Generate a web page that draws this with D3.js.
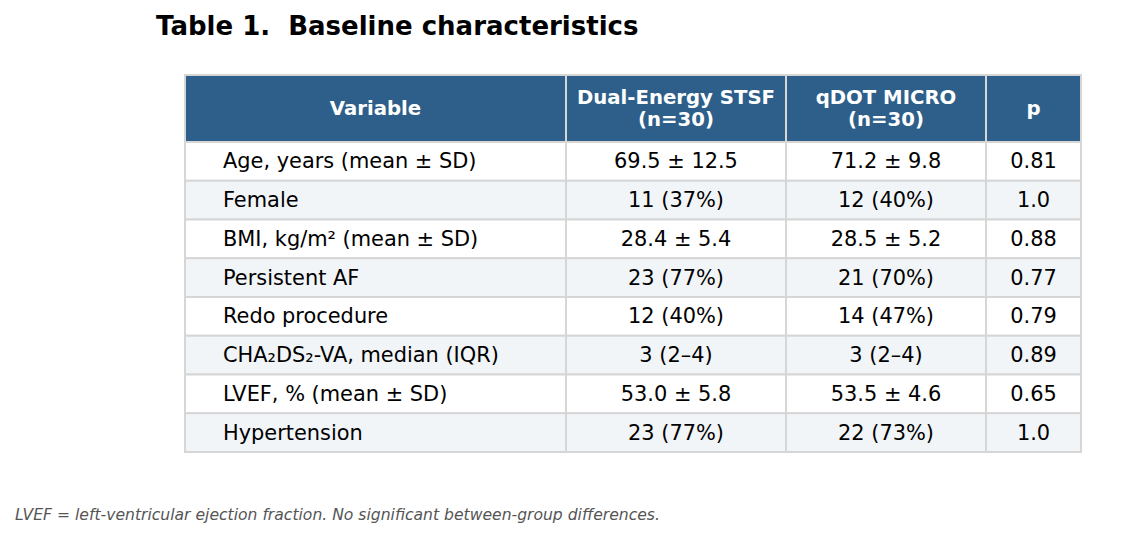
<!DOCTYPE html>
<html>
<head>
<meta charset="utf-8">
<script src="https://cdn.jsdelivr.net/npm/d3@7"></script>
<style>
  html, body { margin: 0; padding: 0; background: #fff; }
  svg { display: block; font-family: "DejaVu Sans", sans-serif; }
</style>
</head>
<body>
<div id="chart"></div>
<script>
// table content
const headers = ['Variable', 'Dual-Energy STSF\n(n=30)', 'qDOT MICRO\n(n=30)', 'p'];
const variables = [
  'Age, years (mean ± SD)',
  'Female',
  'BMI, kg/m² (mean ± SD)',
  'Persistent AF',
  'Redo procedure',
  'CHA₂DS₂-VA, median (IQR)',
  'LVEF, % (mean ± SD)',
  'Hypertension'
];
const dualEnergy = ['69.5 ± 12.5', '11 (37%)', '28.4 ± 5.4', '23 (77%)', '12 (40%)', '3 (2–4)', '53.0 ± 5.8', '23 (77%)'];
const qdotMicro = ['71.2 ± 9.8', '12 (40%)', '28.5 ± 5.2', '21 (70%)', '14 (47%)', '3 (2–4)', '53.5 ± 4.6', '22 (73%)'];
const pValues = ['0.81', '1.0', '0.88', '0.77', '0.79', '0.89', '0.65', '1.0'];

const titleText = 'Table 1.  Baseline characteristics';
const footnote = 'LVEF = left-ventricular ejection fraction. No significant between-group differences.';

const width = 1124, height = 538;
const tLeft = 185, tTop = 75, headH = 67, tBottom = 452;
const colWidths = [381, 220, 200, 95];

const svg = d3.select('#chart')
  .append('svg')
  .attr('width', width)
  .attr('height', height);

const rows = variables.map((v, i) => [v, dualEnergy[i], qdotMicro[i], pValues[i]]);

// column edges from cumulative widths
const colEdges = [tLeft];
colWidths.forEach(w => colEdges.push(colEdges[colEdges.length - 1] + w));

const y = d3.scaleBand()
  .domain(d3.range(rows.length))
  .range([tTop + headH, tBottom]);

// title (keep the double space)
svg.append('text')
  .attr('x', 156)
  .attr('y', 35)
  .style('font-size', '26px')
  .style('font-weight', 'bold')
  .style('white-space', 'pre')
  .style('fill', '#000')
  .text(titleText);

const grid = svg.append('g');

// header cells
headers.forEach((h, j) => {
  grid.append('rect')
    .attr('x', colEdges[j])
    .attr('y', tTop)
    .attr('width', colEdges[j + 1] - colEdges[j])
    .attr('height', headH)
    .style('fill', '#2d5f8a')
    .style('stroke', '#d6d6d6')
    .style('stroke-width', 2);

  const lines = h.split('\n');
  const lh = 22;
  const cy = tTop + headH / 2;
  const t = grid.append('text')
    .attr('text-anchor', 'middle')
    .style('font-size', '19.7px')
    .style('font-weight', 'bold')
    .style('fill', '#fff');
  lines.forEach((ln, k) => {
    t.append('tspan')
      .attr('x', (colEdges[j] + colEdges[j + 1]) / 2)
      .attr('y', cy + (k - (lines.length - 1) / 2) * lh)
      .attr('dy', '0.35em')
      .text(ln);
  });
});

// body rows
const rowG = grid.selectAll('g.row')
  .data(rows)
  .enter()
  .append('g')
  .attr('class', 'row');

rowG.each(function(r, i) {
  const g = d3.select(this);
  r.forEach((val, j) => {
    g.append('rect')
      .attr('x', colEdges[j])
      .attr('y', y(i))
      .attr('width', colEdges[j + 1] - colEdges[j])
      .attr('height', y.bandwidth())
      .style('fill', i % 2 ? '#f2f5f8' : '#ffffff')
      .style('stroke', '#d6d6d6')
      .style('stroke-width', 2);

    g.append('text')
      .attr('x', j === 0 ? colEdges[0] + 38 : (colEdges[j] + colEdges[j + 1]) / 2)
      .attr('y', y(i) + y.bandwidth() / 2)
      .attr('dy', '0.33em')
      .attr('text-anchor', j === 0 ? 'start' : 'middle')
      .style('font-size', '20.9px')
      .style('fill', '#000')
      .text(val);
  });
});

// footnote
svg.append('text')
  .attr('x', 15)
  .attr('y', 520)
  .style('font-size', '15.6px')
  .style('font-style', 'italic')
  .style('fill', '#555')
  .text(footnote);
</script>
</body>
</html>
